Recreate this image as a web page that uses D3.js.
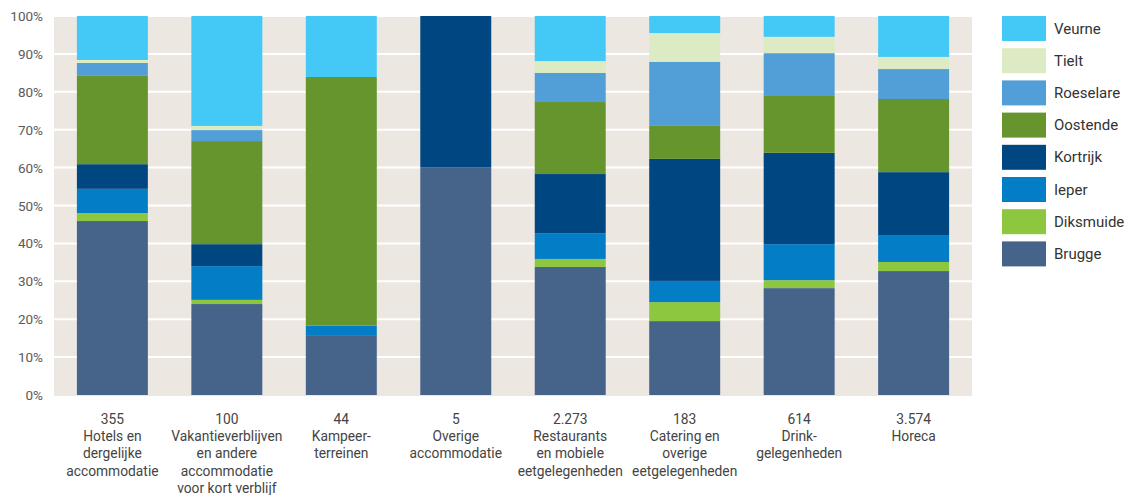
<!DOCTYPE html>
<html>
<head>
<meta charset="utf-8">
<script src="https://cdn.jsdelivr.net/npm/d3@7"></script>
<style>
  body { margin: 0; background: #fff; }
  text { font-family: Roboto, "Noto Sans", sans-serif; }
</style>
</head>
<body>
<div id="chart"></div>
<script>
// categories (count + label lines)
const counts = ["355", "100", "44", "5", "2.273", "183", "614", "3.574"];
const labels = [
  ["Hotels en", "dergelijke", "accommodatie"],
  ["Vakantieverblijven", "en andere", "accommodatie", "voor kort verblijf"],
  ["Kampeer-", "terreinen"],
  ["Overige", "accommodatie"],
  ["Restaurants", "en mobiele", "eetgelegenheden"],
  ["Catering en", "overige", "eetgelegenheden"],
  ["Drink-", "gelegenheden"],
  ["Horeca"]
];

// share per arrondissement (%), stacked bottom to top
const districts = ["Brugge", "Diksmuide", "Ieper", "Kortrijk", "Oostende", "Roeselare", "Tielt", "Veurne"];
const brugge    = [45.9, 24.0, 15.8, 60.0, 33.8, 19.5, 28.2, 32.7];
const diksmuide = [2.1, 1.1, 0.0, 0.0, 2.1, 5.0, 2.1, 2.4];
const ieper     = [6.4, 8.9, 2.5, 0.0, 6.8, 5.6, 9.5, 7.1];
const kortrijk  = [6.5, 5.8, 0.0, 40.0, 15.6, 32.2, 24.1, 16.6];
const oostende  = [23.3, 27.2, 65.6, 0.0, 19.0, 8.7, 15.0, 19.3];
const roeselare = [3.4, 2.9, 0.0, 0.0, 7.7, 16.9, 11.3, 7.9];
const tielt     = [0.8, 1.1, 0.0, 0.0, 3.1, 7.6, 4.3, 3.2];
const veurne    = [11.6, 29.0, 16.1, 0.0, 11.9, 4.5, 5.5, 10.8];
const yTicks = [0, 10, 20, 30, 40, 50, 60, 70, 80, 90, 100];

const colors = {
  Brugge: "#46638a", Diksmuide: "#8dc63f", Ieper: "#027dc6", Kortrijk: "#004781",
  Oostende: "#66952e", Roeselare: "#519fd6", Tielt: "#dcebc3", Veurne: "#44c8f5"
};

const width = 1133, height = 495;
const margin = { left: 54, right: 161, top: 17, bottom: 100 };

const svg = d3.select("#chart").append("svg")
  .attr("width", width)
  .attr("height", height);

const series = [brugge, diksmuide, ieper, kortrijk, oostende, roeselare, tielt, veurne];
const table = counts.map((c, i) => {
  const row = { key: i };
  districts.forEach((d, j) => { row[d] = series[j][i]; });
  return row;
});

const x = d3.scaleBand()
  .domain(d3.range(counts.length))
  .range([margin.left, width - margin.right])
  .paddingInner(0.38)
  .paddingOuter(0.2);

const y = d3.scaleLinear()
  .domain([0, 100])
  .range([height - margin.bottom, margin.top - 1]);

// plot background
svg.append("rect")
  .attr("x", margin.left)
  .attr("y", y(100) + 1)
  .attr("width", width - margin.right - margin.left)
  .attr("height", y(0) - y(100))
  .attr("fill", "#ece7e1");

// gridlines
svg.append("g")
  .selectAll("line")
  .data(yTicks.filter(t => t > 0 && t < 100))
  .join("line")
  .attr("x1", margin.left)
  .attr("x2", width - margin.right)
  .attr("y1", d => y(d))
  .attr("y2", d => y(d))
  .attr("stroke", "#fff")
  .attr("stroke-width", 2);

// y labels
svg.append("g")
  .selectAll("text")
  .data(yTicks)
  .join("text")
  .attr("x", 43)
  .attr("y", d => y(d) + 5)
  .attr("text-anchor", "end")
  .attr("font-size", 13.5)
  .attr("fill", "#5a5a5a")
  .text(d => d + "%");

// stacked bars
const stack = d3.stack().keys(districts)(table);
svg.append("g")
  .selectAll("g")
  .data(stack)
  .join("g")
  .attr("fill", d => colors[d.key])
  .selectAll("rect")
  .data(d => d)
  .join("rect")
  .attr("x", (d, i) => x(i))
  .attr("width", x.bandwidth())
  .attr("y", d => y(Math.min(d[1], 100)))
  .attr("height", d => Math.max(0, y(d[0]) - y(Math.min(d[1], 100))));

// x labels
const xl = svg.append("g")
  .selectAll("text")
  .data(counts)
  .join("text")
  .attr("text-anchor", "middle")
  .attr("font-size", 13.8)
  .attr("fill", "#444")
  .attr("transform", (d, i) => `translate(${x(i) + x.bandwidth() / 2},424)`);
xl.selectAll("tspan")
  .data((d, i) => [d].concat(labels[i]))
  .join("tspan")
  .attr("x", 0)
  .attr("y", (d, i) => i * 17.2)
  .text(d => d);

// legend
const legend = svg.append("g")
  .selectAll("g")
  .data(districts.slice().reverse())
  .join("g")
  .attr("transform", (d, i) => `translate(1002,${16 + i * 32.2})`);
legend.append("rect")
  .attr("width", 44)
  .attr("height", 25)
  .attr("fill", d => colors[d]);
legend.append("text")
  .attr("x", 52)
  .attr("y", 17.5)
  .attr("font-size", 15)
  .attr("fill", "#333")
  .text(d => d);
</script>
</body>
</html>
